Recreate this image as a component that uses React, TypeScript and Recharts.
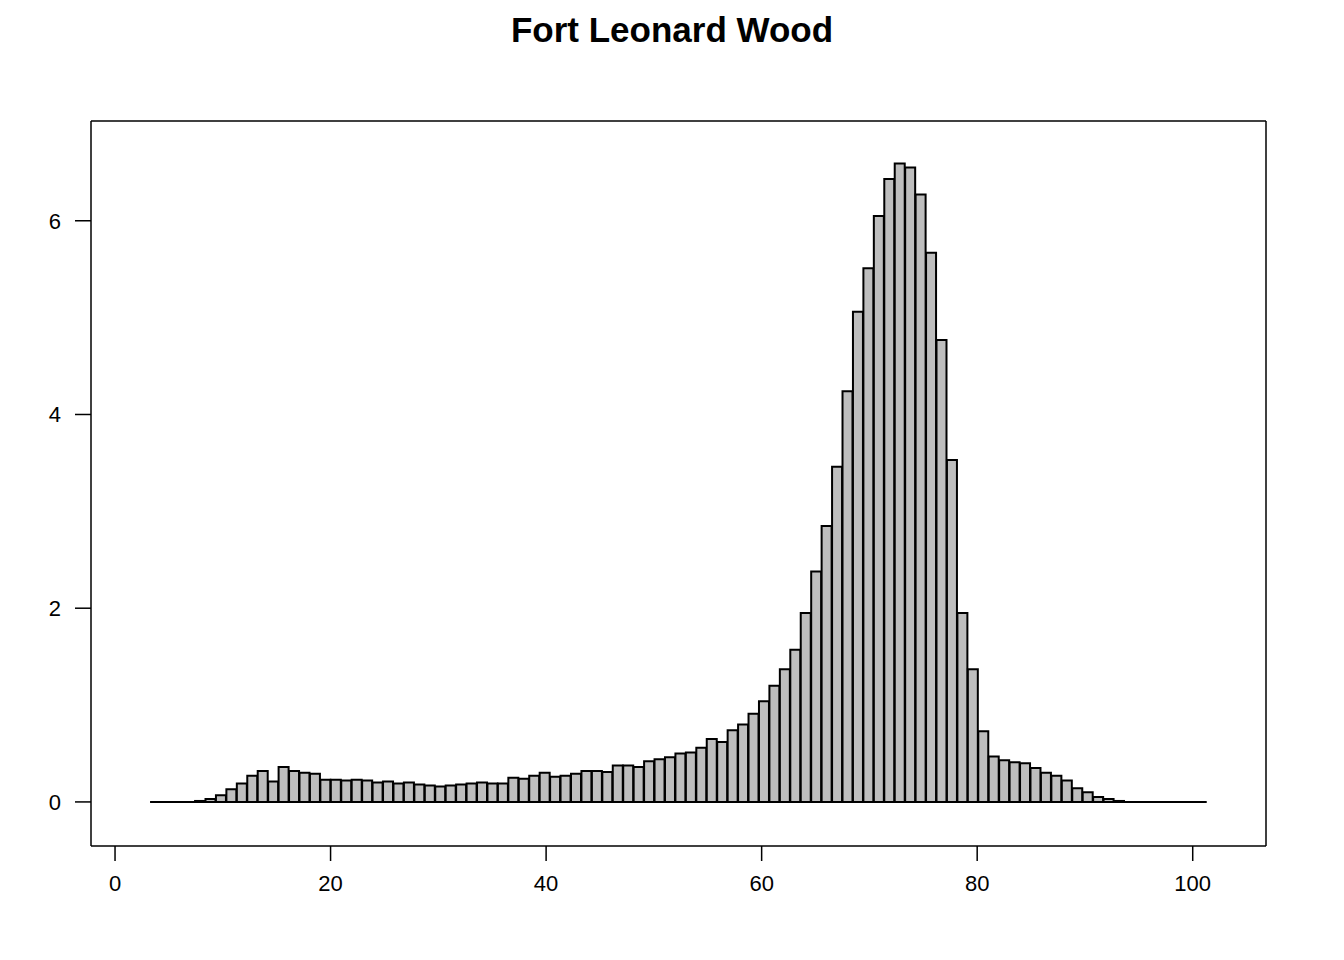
import { BarChart, Bar, XAxis, YAxis, ReferenceLine } from "recharts";

// histogram bins: left edge at binStart + i * binWidth
const binStart = 3.55;
const binWidth = 0.969;
const baseFrom = 3.25;
const baseTo = 101.3;
const density = [
  0, 0, 0, 0, 0.01, 0.03, 0.07, 0.13, 0.19, 0.27,
  0.32, 0.21, 0.36, 0.32, 0.3, 0.29, 0.23, 0.23, 0.22, 0.23,
  0.22, 0.2, 0.21, 0.19, 0.2, 0.18, 0.17, 0.16, 0.17, 0.18,
  0.19, 0.2, 0.19, 0.19, 0.25, 0.24, 0.27, 0.3, 0.26, 0.27,
  0.29, 0.32, 0.32, 0.31, 0.375, 0.375, 0.36, 0.42, 0.44, 0.46,
  0.5, 0.51, 0.56, 0.65, 0.62, 0.74, 0.8, 0.91, 1.04, 1.2,
  1.37, 1.57, 1.95, 2.38, 2.85, 3.46, 4.24, 5.06, 5.51, 6.05,
  6.43, 6.59, 6.55, 6.27, 5.67, 4.77, 3.53, 1.95, 1.37, 0.73,
  0.47, 0.43, 0.41, 0.4, 0.35, 0.3, 0.27, 0.22, 0.14, 0.1,
  0.05, 0.03, 0.01, 0, 0, 0, 0, 0, 0, 0,
];
const xTicks = [0, 20, 40, 60, 80, 100];
const yTicks = [0, 2, 4, 6];

const data = density.map((d, i) => ({ mid: binStart + binWidth * (i + 0.5), d }));

const font = { fontFamily: "Liberation Sans, Arial, sans-serif", fontSize: 22, fill: "#000" };
const xDomain = [-2.23, 106.8];
const yDomain = [-0.455, 7.03];

export default function App() {
  return (
    <div style={{ position: "absolute", left: 0, top: 0, width: 1344, height: 960, background: "#fff" }}>
      <div
        style={{
          position: "absolute",
          top: 10,
          width: 1344,
          textAlign: "center",
          fontFamily: "Liberation Sans, Arial, sans-serif",
          fontWeight: "bold",
          fontSize: 35,
        }}
      >
        Fort Leonard Wood
      </div>
      <BarChart
        width={1344}
        height={960}
        data={data}
        margin={{ top: 105, left: 31, right: 62, bottom: 54 }}
        barCategoryGap={0}
        barGap={0}
      >
        <XAxis
          xAxisId="b"
          dataKey="mid"
          type="number"
          domain={xDomain}
          ticks={xTicks}
          height={60}
          tickSize={15}
          tickMargin={14}
          stroke="#000"
          strokeWidth={1.5}
          tick={font}
          allowDataOverflow
        />
        <XAxis
          xAxisId="t"
          orientation="top"
          dataKey="mid"
          type="number"
          domain={xDomain}
          ticks={xTicks}
          height={16}
          tickSize={15}
          tick={false}
          stroke="#000"
          strokeWidth={1.5}
          allowDataOverflow
        />
        <YAxis
          yAxisId="l"
          type="number"
          domain={yDomain}
          ticks={yTicks}
          width={60}
          tickSize={16}
          tickMargin={14}
          stroke="#000"
          strokeWidth={1.5}
          tick={font}
          allowDataOverflow
        />
        <YAxis
          yAxisId="r"
          orientation="right"
          type="number"
          domain={yDomain}
          ticks={yTicks}
          width={16}
          tickSize={16}
          tick={false}
          stroke="#000"
          strokeWidth={1.5}
          allowDataOverflow
        />
        <ReferenceLine
          xAxisId="b"
          yAxisId="l"
          segment={[{ x: baseFrom, y: 0 }, { x: baseTo, y: 0 }]}
          stroke="#000"
          strokeWidth={2}
        />
        <Bar
          xAxisId="b"
          yAxisId="l"
          dataKey="d"
          fill="#BEBEBE"
          stroke="#000"
          strokeWidth={2}
          isAnimationActive={false}
        />
      </BarChart>
    </div>
  );
}
